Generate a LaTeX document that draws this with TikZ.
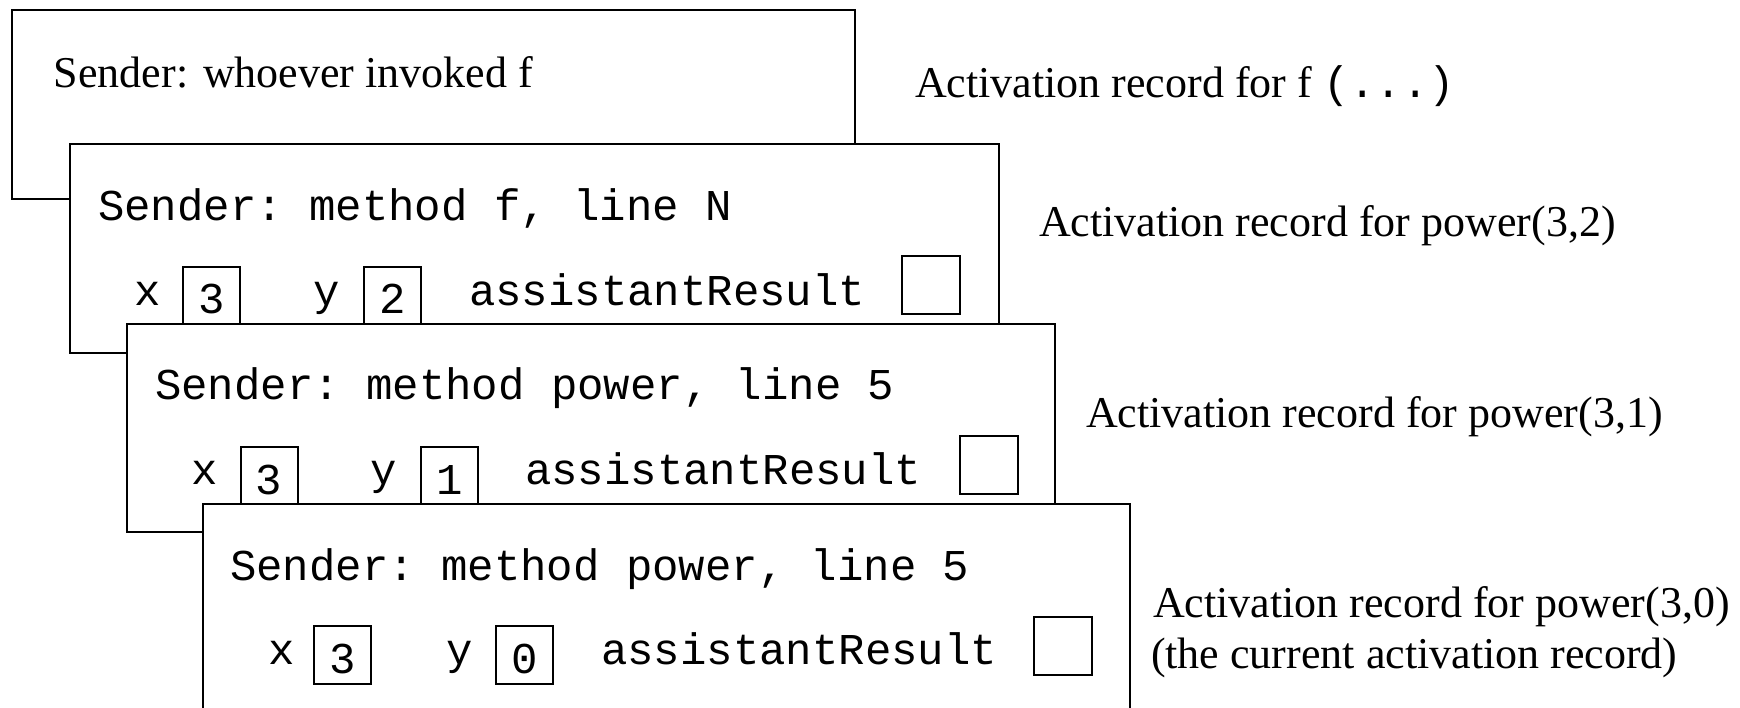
\documentclass[tikz,border=0pt]{standalone}
\usepackage{fontspec}
\setmainfont{Liberation Serif}
\setmonofont{Liberation Mono}
\begin{document}
\begin{tikzpicture}[x=0.5pt,y=-0.5pt, line width=1pt,
  rec/.style={draw, fill=white, anchor=north west, inner sep=0pt, outer sep=0pt},
  lbl/.style={anchor=base west, inner sep=0pt, font=\fontsize{22}{26}\selectfont},
  code/.style={anchor=base west, inner sep=0pt, font=\fontsize{22}{26}\selectfont\ttfamily},
  val/.style={draw, fill=white, anchor=north west, inner sep=0pt, outer sep=0pt, minimum width=28.5pt, minimum height=29pt},
  res/.style={draw, fill=white, anchor=north west, inner sep=0pt, outer sep=0pt, minimum width=29pt, minimum height=29pt},
  digit/.style={anchor=base, inner sep=0pt, font=\fontsize{22}{26}\selectfont\ttfamily}]
\useasboundingbox (0,0) rectangle (1740,707);
% record for f
\node[rec, minimum width=421.5pt, minimum height=94.5pt] (r1) at (12,10) {};
\node[lbl] (s1) at (53,87) {Sender: whoever invoked f};
% record for power(3,2)
\node[rec, minimum width=464.5pt, minimum height=104.5pt] (r2) at (70,144) {};
\node[code] (s2) at (97,220) {Sender: method f, line N};
\node[code] (x2) at (133,305) {x};
\node[val] (vx2) at (183,267) {};
\node[digit] (dx2) at (211.5,313) {3};
\node[code] (y2) at (312,305) {y};
\node[val] (vy2) at (364,267) {};
\node[digit] (dy2) at (393,313) {2};
\node[code] (a2) at (468,305) {assistantResult};
\node[res] (ar2) at (902,256) {};
% record for power(3,1)
\node[rec, minimum width=464pt, minimum height=104pt] (r3) at (127,324) {};
\node[code] (s3) at (154,399) {Sender: method power, line 5};
\node[code] (x3) at (190,484) {x};
\node[val] (vx3) at (241,447) {};
\node[digit] (dx3) at (269,494) {3};
\node[code] (y3) at (369,484) {y};
\node[val] (vy3) at (421,447) {};
\node[digit] (dy3) at (449.5,494) {1};
\node[code] (a3) at (524,484) {assistantResult};
\node[res] (ar3) at (960,436) {};
% record for power(3,0)
\coordinate (b4a) at (203,720);
\coordinate (b4b) at (203,504);
\coordinate (b4c) at (1130,504);
\coordinate (b4d) at (1130,720);
\draw[fill=white] (b4a) -- (b4b) -- (b4c) -- (b4d);
\node[code] (s4) at (229,580) {Sender: method power, line 5};
\node[code] (x4) at (267,664) {x};
\node[val] (vx4) at (314,626) {};
\node[digit] (dx4) at (343,673) {3};
\node[code] (y4) at (445,664) {y};
\node[val] (vy4) at (496,626) {};
\node[digit] (dy4) at (524.5,673) {0};
\node[code] (a4) at (600,664) {assistantResult};
\node[res] (ar4) at (1034,617) {};
% labels
\node[lbl] (l1) at (914,97) {Activation record for f \texttt{(...)}};
\node[lbl] (l2) at (1038,236) {Activation record for power(3,2)};
\node[lbl] (l3) at (1085,427) {Activation record for power(3,1)};
\node[lbl] (l4) at (1152,617) {Activation record for power(3,0)};
\node[lbl] (l5) at (1150,668) {(the current activation record)};
\end{tikzpicture}
\end{document}
